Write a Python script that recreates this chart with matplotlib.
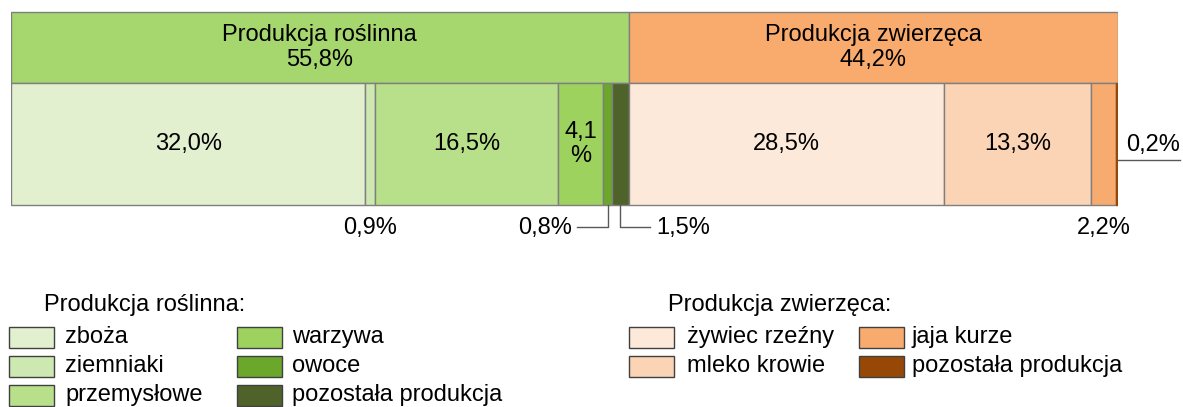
import matplotlib
matplotlib.use('Agg')
from matplotlib import pyplot as plt
from matplotlib.patches import Rectangle

plt.rcParams['font.family'] = ['Liberation Sans', 'DejaVu Sans']

group_names = ['Produkcja roślinna', 'Produkcja zwierzęca']
group_shares = [55.8, 44.2]
group_colors = ['#A5D76E', '#F9AB6E']

plant_names = ['zboża', 'ziemniaki', 'przemysłowe', 'warzywa', 'owoce', 'pozostała produkcja']
plant_shares = [32.0, 0.9, 16.5, 4.1, 0.8, 1.5]
plant_colors = ['#E2F0D0', '#CDE8B1', '#B8E08A', '#9DD25F', '#6BA72B', '#4F6229']

animal_names = ['żywiec rzeźny', 'mleko krowie', 'jaja kurze', 'pozostała produkcja']
animal_shares = [28.5, 13.3, 2.2, 0.2]
animal_colors = ['#FDE9DA', '#FBD4B5', '#F8AB6E', '#974806']

edge = '#7F7F7F'
lead = '#595959'
fs = 17


def pct(v):
    return f'{v:.1f}%'.replace('.', ',')


W, H = 1183, 407
fig = plt.figure(figsize=(W / 100, H / 100), dpi=100)

# bar axes: x in percent, y in pixels (top down)
ax = fig.add_axes([11 / W, 0, 1107 / W, 1])
ax.set_xlim(0, 100)
ax.set_ylim(H, 0)
ax.axis('off')

# top row: the two groups
left = 0
for name, share, color in zip(group_names, group_shares, group_colors):
    ax.barh(47.5, share, height=71, left=left, color=color, edgecolor=edge, linewidth=1)
    ax.text(left + share / 2, 47.5, f'{name}\n{pct(share)}', ha='center', va='center',
            fontsize=fs, linespacing=1.15)
    left += share

# bottom row: all components
shares = plant_shares + animal_shares
colors = plant_colors + animal_colors
starts = []
left = 0
for i, (share, color) in enumerate(zip(shares, colors)):
    ec = color if i == len(shares) - 1 else edge
    ax.barh(144, share, height=122, left=left, color=color, edgecolor=ec, linewidth=1)
    starts.append(left)
    left += share
centers = [s + v / 2 for s, v in zip(starts, shares)]

# labels inside the wide segments
for i in [0, 2, 6, 7]:
    ax.text(centers[i], 144, pct(shares[i]), ha='center', va='center', fontsize=fs)
ax.text(centers[3], 144, pct(shares[3]).replace('%', '\n%'), ha='center', va='center',
        fontsize=fs, linespacing=1.1)

# labels below / beside the narrow segments
ax.text(centers[1], 228, pct(shares[1]), ha='center', va='center', fontsize=fs)
ax.text(centers[8], 228, pct(shares[8]), ha='center', va='center', fontsize=fs)

px = 100 / 1107
ax.plot([centers[4], centers[4], centers[4] - 31 * px], [205, 227, 227], color=lead, lw=1)
ax.text(centers[4] - 36 * px, 228, pct(shares[4]), ha='right', va='center', fontsize=fs)
ax.plot([centers[5], centers[5], centers[5] + 30 * px], [205, 227, 227], color=lead, lw=1)
ax.text(centers[5] + 36 * px, 228, pct(shares[5]), ha='left', va='center', fontsize=fs)

ax.plot([100, 100 + 62 * px], [160, 160], color=lead, lw=1, clip_on=False)
ax.text(100 + 35 * px, 156, pct(shares[9]), ha='center', va='bottom', fontsize=fs, clip_on=False)

# legend in pixel coordinates
lg = fig.add_axes([0, 0, 1, 1])
lg.set_xlim(0, W)
lg.set_ylim(H, 0)
lg.axis('off')


def legend_block(title, tx, cols, nrows, names, colors):
    lg.text(tx, 305, title, ha='left', va='center', fontsize=fs)
    for k, (name, color) in enumerate(zip(names, colors)):
        col, row = divmod(k, nrows)
        bx, txx = cols[col]
        y = 337 + row * 29
        lg.add_patch(Rectangle((bx, y - 10.5), 45, 21, facecolor=color, edgecolor='#404040', lw=1))
        lg.text(txx, y, name, ha='left', va='center', fontsize=fs)


legend_block('Produkcja roślinna:', 44, [(9, 65), (237, 292)], 3, plant_names, plant_colors)
legend_block('Produkcja zwierzęca:', 668, [(629, 687), (859, 912)], 2, animal_names, animal_colors)

fig.savefig('out.png', dpi=100)
